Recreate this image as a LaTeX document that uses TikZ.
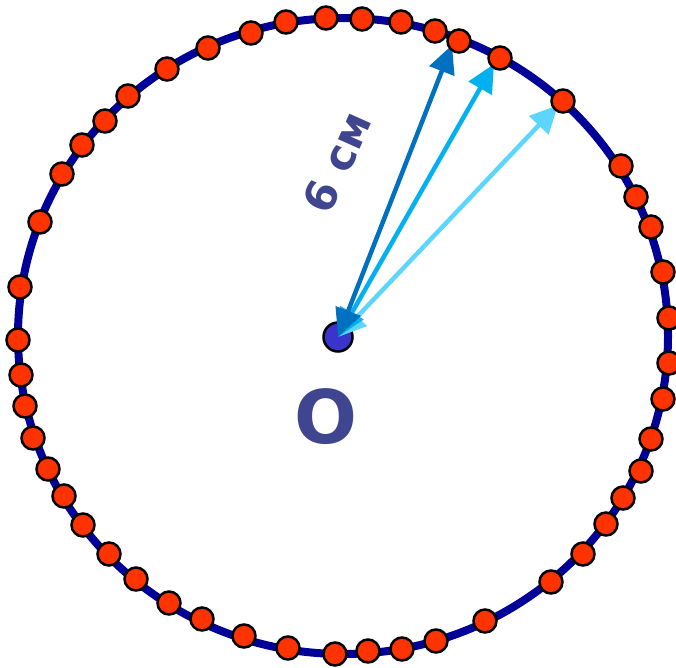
\documentclass[tikz,border=0pt]{standalone}
\usepackage{fontspec}
\setmainfont{DejaVu Sans}
\usetikzlibrary{arrows.meta}
\definecolor{ringblue}{HTML}{000099}
\definecolor{dotred}{HTML}{FF3300}
\definecolor{ctrblue}{HTML}{3A33CC}
\definecolor{txtblue}{HTML}{3F458F}
\definecolor{arrdark}{HTML}{0070C0}
\definecolor{arrmid}{HTML}{00B0F0}
\definecolor{arrlight}{HTML}{5DD6FF}
\tikzset{
  dotnode/.style={circle,draw=black,line width=2.5pt,fill=dotred,minimum size=23pt,inner sep=0pt},
  ctrnode/.style={circle,draw=black,line width=2.5pt,fill=ctrblue,minimum size=29pt,inner sep=0pt},
  radarrow/.style={line width=4.5pt,{Triangle[length=28pt,width=26pt]}-{Triangle[length=28pt,width=26pt]}},
  lbl/.style={text=txtblue,font=\bfseries,inner sep=0pt}
}
\begin{document}
\begin{tikzpicture}[x=1pt,y=-1pt]
\useasboundingbox (0,0) rectangle (676,667);
\draw[ringblue,line width=8pt] (343,336) ellipse [x radius=325,y radius=318];
\node[ctrnode] (ctr) at (338,337) {};
\coordinate (tdark) at (452,45);
\coordinate (tmid) at (494,64);
\coordinate (tlight) at (558,105);
\draw[radarrow,arrlight] (ctr.center) -- (tlight);
\draw[radarrow,arrmid] (ctr.center) -- (tmid);
\draw[radarrow,arrdark] (ctr.center) -- (tdark);
\foreach \x/\y [count=\i] in {326/18,362/19,401/22,435/31,459/41,500/58,563/101,621/166,636/197,651/227,663/272,669/318,669/363,663/399,651/439,641/471,623/498,606/524,583/554,551/582,485/621,436/641,402/649,368/651,335/654,288/648,244/636,202/619,169/603,136/579,109/554,83/525,64/496,48/469,33/438,25/406,21/375,18/340,20/287,40/222,62/174,82/145,105/121,128/96,167/69,208/48,251/33,286/22}
  \node[dotnode] (d\i) at (\x,\y) {};
\node[lbl,font=\bfseries\fontsize{43}{43}\selectfont,rotate=66] (len) at (337,162) {6 см};
\node[lbl,font=\bfseries\fontsize{74}{74}\selectfont] (olbl) at (326,417) {O};
\end{tikzpicture}
\end{document}
